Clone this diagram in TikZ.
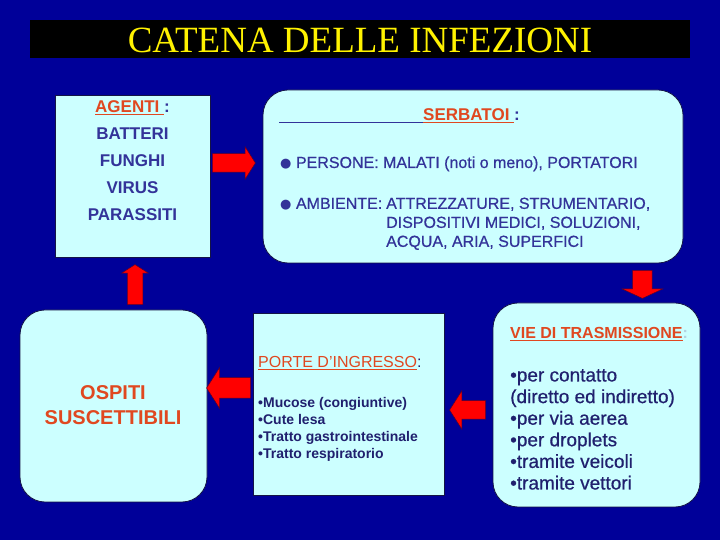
\documentclass[tikz,border=0pt]{standalone}
\usepackage{fontspec}
\setmainfont{Liberation Sans}
\newfontfamily\titlefont{Liberation Serif}
\newfontfamily\medfont[FakeBold=0.6]{Liberation Sans}
\newfontfamily\dotfont{DejaVu Sans}
\usetikzlibrary{shapes.arrows}
\definecolor{slideblue}{RGB}{0,0,153}
\definecolor{boxcyan}{RGB}{204,255,255}
\definecolor{boxedge}{RGB}{20,20,70}
\definecolor{textblue}{RGB}{51,51,153}
\definecolor{listblue}{RGB}{32,32,110}
\definecolor{titleorange}{RGB}{224,72,32}
\definecolor{arrowred}{RGB}{255,0,0}
\definecolor{arrowedge}{RGB}{90,0,40}
\definecolor{fadecolon}{RGB}{180,210,225}
\newcommand{\bigdot}{{\dotfont\fontsize{13}{13}\selectfont ●}}
\newcommand{\fs}[2]{\fontsize{#1}{#2}\selectfont}

\begin{document}
\begin{tikzpicture}[x=1pt,y=1pt,
    box/.style={fill=boxcyan, draw=boxedge, line width=0.8pt, inner sep=0pt},
    roundbox/.style={box, rounded corners=25pt},
    redarrow/.style={single arrow, fill=arrowred, draw=arrowedge, line width=0.5pt,
      outer sep=0pt, minimum width=0pt, single arrow head indent=0pt,
      single arrow tip angle=115, anchor=tail}]
    \fill[slideblue] (0,0) rectangle (720,540);
    \useasboundingbox (0,0) rectangle (720,540);
    % titolo
    \node[fill=black, minimum width=660pt, minimum height=38pt, inner sep=0pt] (titlebar) at (360,501) {};
    \node[text=yellow, font=\titlefont\fs{37}{40}] (title) at (360,500) {CATENA DELLE INFEZIONI};
    %
    % agenti
    \node[box, minimum width=155pt, minimum height=162pt] (agenti) at (132.5,364) {};
    \node[text=textblue, align=center, font=\bfseries\fs{17}{27}] (agentitxt) at (132.5,379)
      {\textcolor{titleorange}{\underline{AGENTI\ }}:\\BATTERI\\FUNGHI\\VIRUS\\PARASSITI};
    %
    % serbatoi
    \node[roundbox, minimum width=420pt, minimum height=173pt] (serbatoi) at (473,363.5) {};
    \node[anchor=base west, inner sep=0pt, text=textblue, font=\bfseries\fs{17}{20}] (serbtitle) at (279,419)
      {\underline{\hspace*{144pt}}\textcolor{titleorange}{\underline{SERBATOI\ }}:};
    \node[anchor=base west, inner sep=0pt, text=textblue, font=\medfont\fs{16}{19}] (persone) at (280,372)
      {\bigdot\ PERSONE: MALATI (noti o meno), PORTATORI};
    \node[anchor=north west, inner sep=0pt, align=left, text=textblue, font=\medfont\fs{16}{19}] (ambiente) at (280,342.5)
      {\makebox[106pt][l]{\bigdot\ AMBIENTE:}ATTREZZATURE, STRUMENTARIO,\\
       \hspace*{106pt}DISPOSITIVI MEDICI, SOLUZIONI,\\
       \hspace*{106pt}ACQUA, ARIA, SUPERFICI};
    %
    % ospiti
    \node[roundbox, minimum width=187pt, minimum height=192pt] (ospiti) at (113.5,134) {};
    \node[text=titleorange, align=center, font=\bfseries\fs{20}{25}] (ospititxt) at (113,134.6)
      {OSPITI\\SUSCETTIBILI};
    %
    % porte d'ingresso
    \node[box, minimum width=191pt, minimum height=182pt] (porte) at (348.5,136) {};
    \node[anchor=base west, inner sep=0pt, text=listblue, font=\fs{16}{19}] (portetitle) at (258,172)
      {\textcolor{titleorange}{\underline{PORTE D’INGRESSO}}:};
    \node[anchor=north west, inner sep=0pt, align=left, text=listblue, font=\bfseries\fs{14}{17}] (portelist) at (258,142.5)
      {•Mucose (congiuntive)\\•Cute lesa\\•Tratto gastrointestinale\\•Tratto respiratorio};
    %
    % vie di trasmissione
    \node[roundbox, minimum width=207pt, minimum height=204pt] (vie) at (596.5,135) {};
    \node[anchor=base west, inner sep=0pt, font=\bfseries\fs{16}{19}] (vietitle) at (510,201)
      {\textcolor{titleorange}{\underline{VIE DI TRASMISSIONE}}\textcolor{fadecolon}{:}};
    \node[anchor=north west, inner sep=0pt, align=left, text=listblue, font=\medfont\fs{19}{21.6}] (vielist) at (510,171)
      {•per contatto\\(diretto ed indiretto)\\•per via aerea\\•per droplets\\•tramite veicoli\\•tramite vettori};
    %
    % frecce
    \node[redarrow, minimum height=43pt, inner sep=9pt, single arrow head extend=7pt] (arrAS)
      at ([xshift=2pt,yshift=13pt]agenti.east) {};
    \node[redarrow, minimum height=28pt, inner sep=9.5pt, single arrow head extend=10.5pt,
      single arrow tip angle=130, shape border rotate=270] (arrSV)
      at ([xshift=-41pt,yshift=-7pt]serbatoi.south east) {};
    \node[redarrow, minimum height=36pt, inner sep=9pt, single arrow head extend=10pt,
      shape border rotate=180] (arrVP) at ([xshift=-7pt,yshift=-5pt]vie.west) {};
    \node[redarrow, minimum height=44pt, inner sep=10pt, single arrow head extend=10pt,
      shape border rotate=180] (arrPO) at ([xshift=-2pt,yshift=16pt]porte.west) {};
    \node[redarrow, minimum height=40pt, inner sep=7.5pt, single arrow head extend=5.5pt,
      shape border rotate=90] (arrOA) at ([xshift=21.5pt,yshift=5pt]ospiti.north) {};
\end{tikzpicture}
\end{document}
